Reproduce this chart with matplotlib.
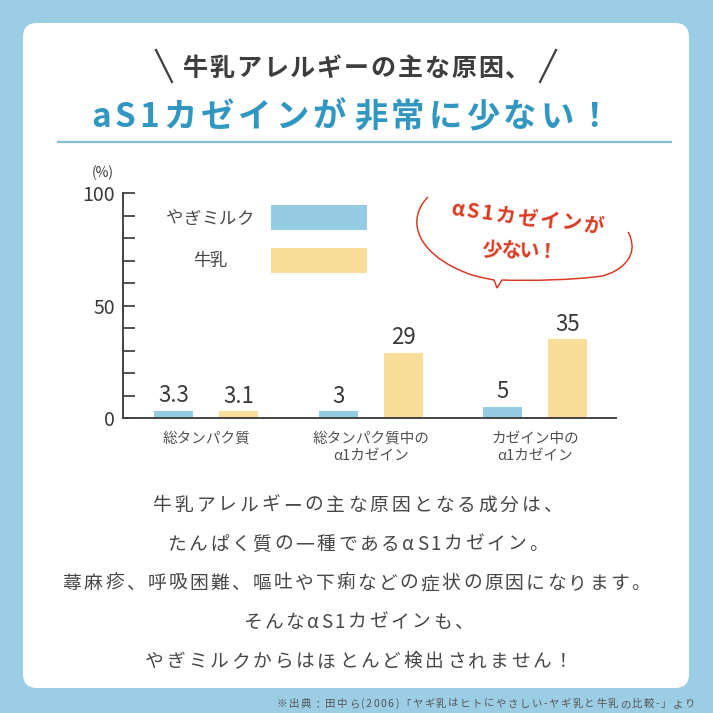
import numpy as np
import matplotlib
matplotlib.use('Agg')
import matplotlib.pyplot as plt
from matplotlib.patches import FancyBboxPatch, Rectangle, PathPatch
from matplotlib.path import Path

plt.rcParams['font.family'] = ['Noto Sans CJK JP', 'DejaVu Sans']

# ---- データ ----
categories = ['総タンパク質', '総タンパク質中の\nα1カゼイン', 'カゼイン中の\nα1カゼイン']
goat = [3.3, 3, 5]      # やぎミルク
cow = [3.1, 29, 35]     # 牛乳
series_names = ['やぎミルク', '牛乳']
yticks = list(range(0, 101, 10))
ytick_labels = ['0', '', '', '', '', '50', '', '', '', '', '100']

title1 = '牛乳アレルギーの主な原因、'
title2 = 'aS1カゼインが 非常に少ない！'
bubble_lines = ['αS1カゼインが', '少ない！']
body = [
    '牛乳アレルギーの主な原因となる成分は、',
    'たんぱく質の一種であるαS1カゼイン。',
    '蕁麻疹、呼吸困難、嘔吐や下痢などの症状の原因になります。',
    'そんなαS1カゼインも、',
    'やぎミルクからはほとんど検出されません！',
]
source = '※出典：田中ら(2006)「ヤギ乳はヒトにやさしい-ヤギ乳と牛乳の比較-」より'

BG = '#9BCDE4'
BLUE = '#96CCE3'
YELLOW = '#F8DD98'
DARK = '#3d3d3d'
TEXT = '#474747'
TITLE_BLUE = '#3297C0'
RED = '#DA3B22'

fig = plt.figure(figsize=(7.13, 7.13), dpi=100)
fig.patch.set_facecolor(BG)

# 背景用の軸 (ピクセル座標、上が0)
bg = fig.add_axes([0, 0, 1, 1])
bg.set_xlim(0, 713)
bg.set_ylim(713, 0)
bg.axis('off')
r = fig.canvas.get_renderer()

bg.add_patch(FancyBboxPatch((23, 23), 666, 665, boxstyle='round,pad=0,rounding_size=14',
                            facecolor='white', edgecolor='none'))


def spaced(s, x0, x1, base, size, angle=0, **kw):
    # 字間をあけて文字を並べる
    em = size * 100 / 72
    ws = []
    for ch in s:
        if ch == ' ':
            ws.append(0)
            continue
        t = bg.text(0, 0, ch, fontsize=size, **kw)
        w = t.get_window_extent(r).width
        t.remove()
        if ch in '、。' and ch != s[-1]:
            w = max(w, 0.55 * em)
        ws.append(w)
    ca, sa = np.cos(np.radians(angle)), np.sin(np.radians(angle))
    span = (x1 - x0) / ca
    gap = (span - sum(ws)) / (len(s) - 1)
    d = 0
    for ch, w in zip(s, ws):
        if ch != ' ':
            bg.text(x0 + d * ca, base - d * sa, ch, fontsize=size, ha='left', va='baseline',
                    rotation=angle, rotation_mode='anchor', **kw)
        d += w + gap


# タイトル
spaced(title1, 182, 530, 76, 18, color=DARK, fontweight='bold')
bg.plot([156, 172], [50, 82], color=DARK, lw=1.6)
bg.plot([556, 540], [50, 82], color=DARK, lw=1.6)
spaced(title2, 91, 611, 127, 24, color=TITLE_BLUE, fontweight='bold')
bg.plot([58, 671], [142, 142], color='#86BACF', lw=1.6)

# 本文
body_pos = [(153, 562, 511), (167, 548, 550), (63, 650, 589), (243, 473, 628), (145, 573, 667)]
for line, (x0, x1, b) in zip(body, body_pos):
    spaced(line, x0, x1, b, 13.5, color=TEXT)

spaced(source, 277, 695, 707, 7.5, color='#555555')

# 凡例
spaced(series_names[0], 166, 254, 224, 12.5, color=TEXT)
spaced(series_names[1], 193, 227, 266, 12.5, color=TEXT)
bg.add_patch(Rectangle((271, 205), 96, 25, facecolor=BLUE, edgecolor='none'))
bg.add_patch(Rectangle((271, 248), 96, 25, facecolor=YELLOW, edgecolor='none'))

# 吹き出し
verts = [(428, 197), (420, 205), (416, 215), (417, 225),
         (419, 248), (445, 266), (472, 275),
         (482, 278), (490, 279), (494, 280),
         (497, 288), (502, 280),
         (530, 281), (575, 280), (602, 276),
         (622, 271), (633, 258), (632, 245),
         (631, 238), (630, 235), (628, 232)]
codes = [Path.MOVETO] + [Path.CURVE4] * 9 + [Path.LINETO] * 2 + [Path.CURVE4] * 9
bg.add_patch(PathPatch(Path(verts, codes), facecolor='none', edgecolor=RED, lw=1.1))
spaced(bubble_lines[0], 450, 603, 215, 14.5, angle=-7, color=RED, fontweight='bold')
spaced(bubble_lines[1], 482, 557, 255, 14.5, angle=-3, color=RED, fontweight='bold')

# ---- グラフ ----
ax = fig.add_axes([123 / 713, (713 - 418) / 713, (616 - 123) / 713, (418 - 193) / 713])
ax.patch.set_alpha(0)
x = np.arange(len(categories))
w = 0.237
off = 0.198
b1 = ax.bar(x - off, goat, w, color=BLUE)
b2 = ax.bar(x + off, cow, w, color=YELLOW)
for bars, vals in [(b1, goat), (b2, cow)]:
    for rect, v in zip(bars, vals):
        ax.annotate(f'{v:g}', (rect.get_x() + rect.get_width() / 2, v), xytext=(0, 6),
                    textcoords='offset points', ha='center', va='baseline',
                    fontsize=16, color='#3a3a3a')

ax.set_xlim(-0.505, 2.49)
ax.set_ylim(0, 100)
ax.set_yticks(yticks)
ax.set_yticklabels(ytick_labels)
ax.set_xticks(x)
ax.set_xticklabels(categories, linespacing=1.3)
ax.tick_params(axis='y', direction='in', length=8.6, width=1.3, color='#444444',
               labelsize=14, labelcolor='#3a3a3a', pad=6)
ax.tick_params(axis='x', length=0, labelsize=10.5, labelcolor='#505050', pad=10)
for s in ['top', 'right']:
    ax.spines[s].set_visible(False)
for s in ['left', 'bottom']:
    ax.spines[s].set_color('#444444')
    ax.spines[s].set_linewidth(1.4)
ax.text(-20 / 493, 1 + 20 / 225, '(%)', transform=ax.transAxes, fontsize=10,
        color='#3a3a3a', ha='center', va='center')

fig.savefig('out.png', dpi=100, facecolor=BG)
